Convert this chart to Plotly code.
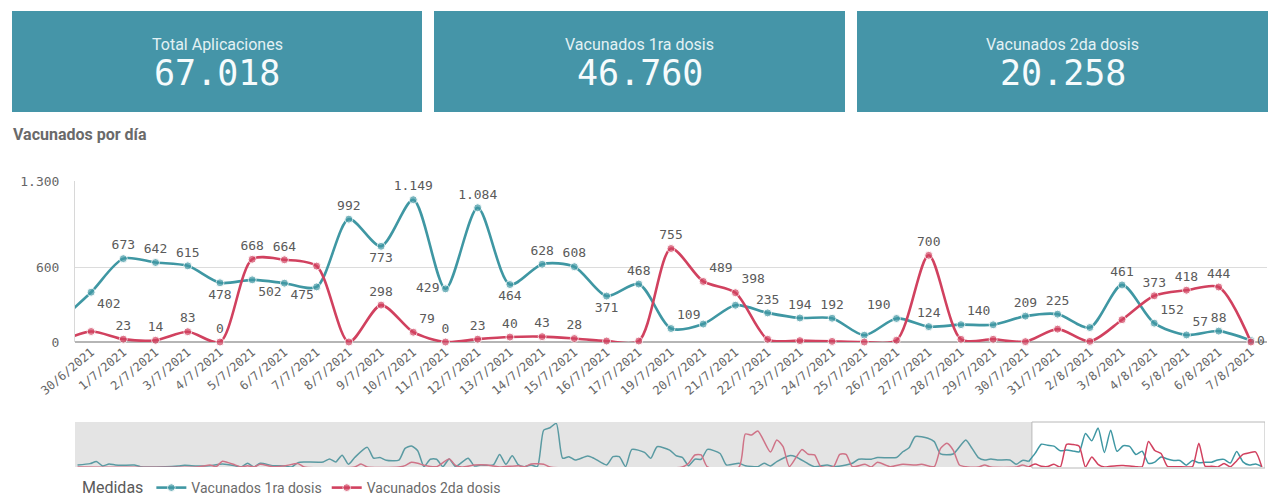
import plotly.graph_objects as go

# ---------------- data ----------------
kpi_titles = ["Total Aplicaciones", "Vacunados 1ra dosis", "Vacunados 2da dosis"]
kpi_values = [67018, 46760, 20258]

dates = ["29/6/2021", "30/6/2021", "1/7/2021", "2/7/2021", "3/7/2021", "4/7/2021",
         "5/7/2021", "6/7/2021", "7/7/2021", "8/7/2021", "9/7/2021", "10/7/2021",
         "11/7/2021", "12/7/2021", "13/7/2021", "14/7/2021", "15/7/2021", "16/7/2021",
         "17/7/2021", "19/7/2021", "20/7/2021", "21/7/2021", "22/7/2021", "23/7/2021",
         "24/7/2021", "25/7/2021", "26/7/2021", "27/7/2021", "28/7/2021", "29/7/2021",
         "30/7/2021", "31/7/2021", "2/8/2021", "3/8/2021", "4/8/2021", "5/8/2021",
         "6/8/2021", "7/8/2021"]
dosis1 = [165, 402, 673, 642, 615, 478, 502, 475, 445, 992, 773, 1149, 429, 1084, 464, 628,
          608, 371, 468, 109, 145, 297, 235, 194, 192, 55, 190, 124, 140, 139, 209, 225,
          117, 461, 152, 57, 88, 12]
dosis2 = [0, 85, 23, 14, 83, 0, 668, 664, 613, 0, 298, 79, 0, 23, 40, 43, 28, 8, 8, 755,
          489, 398, 22, 11, 5, 0, 14, 700, 22, 22, 3, 104, 5, 180, 373, 418, 444, 0]

# earlier history shown in the navigator (day offset relative to 29/6/2021)
hist_day_1 = [-151, -149, -148, -147, -146, -145, -144, -142, -141, -137, -135, -134, -132,
              -130, -128, -126, -125, -124, -123, -122, -120, -118, -117, -116, -115, -112,
              -111, -110, -109, -108, -107, -105, -104, -103, -102, -100, -99, -98, -97,
              -96, -95, -94, -93, -92, -91, -89, -88, -87, -85, -84, -83, -82, -81, -80,
              -79, -78, -77, -76, -75, -74, -73, -72, -70, -69, -67, -66, -65, -64, -63,
              -61, -60, -59, -57, -56, -55, -54, -53, -52, -51, -49, -48, -46, -45, -43,
              -42, -41, -40, -38, -37, -35, -34, -32, -31, -29, -28, -27, -25, -24, -21,
              -20, -19, -18, -16, -15, -14, -12, -10, -9, -8, -7, -6, -5, -3, -2, -1]
hist_val_1 = [60, 100, 160, 30, 90, 60, 50, 60, 10, 10, 30, 50, 30,
              40, 90, 40, 0, 110, 0, 110, 40, 30, 0, 130, 150, 150,
              240, 150, 350, 80, 280, 580, 260, 280, 200, 200, 550, 620, 480,
              10, 230, 230, 10, 240, 10, 260, 30, 60, 60, 370, 80, 330, 60, 10,
              60, 10, 1090, 1160, 1290, 260, 305, 205, 325, 255, 60, 305, 305, 10, 520,
              430, 255, 600, 500, 335, 285, 40, 230, 230, 520, 400, 60, 110, 40, 10,
              110, 30, 160, 335, 305, 90, 10, 60, 10, 60, 110, 230, 230, 280, 280,
              450, 570, 900, 850, 750, 385, 385, 800, 550, 275, 205, 235, 205, 205, 80, 195]
hist_day_2 = [-151, -132, -131, -130, -129, -128, -126, -125, -124, -123, -122, -120, -118,
              -116, -115, -107, -106, -105, -100, -99, -98, -97, -96, -94, -92, -91, -90,
              -88, -86, -85, -84, -81, -80, -79, -77, -76, -55, -54, -53, -52, -51, -46,
              -45, -44, -43, -41, -40, -39, -38, -36, -35, -34, -33, -31, -30, -29, -28,
              -26, -25, -24, -22, -20, -18, -17, -15, -14, -13, -12, -11, -10, -8, -7,
              -6, -2, -1]
hist_val_2 = [0, 0, 30, 60, 10, 170, 60, 0, 40, 0, 80, 10, 40,
              100, 0, 0, 90, 0, 0, 40, 140, 110, 50, 10, 240, 50, 0,
              60, 60, 30, 0, 40, 10, 90, 80, 0, 0, 110, 355, 355, 0, 0,
              975, 945, 1065, 440, 800, 600, 10, 520, 375, 355, 10, 10, 375, 375, 10,
              80, 0, 140, 10, 80, 60, 80, 10, 550, 700, 500, 60, 10, 0, 60,
              0, 0, 60]

series_names = ["Vacunados 1ra dosis", "Vacunados 2da dosis"]

# ---------------- styles ----------------
BLUE = "#3f97a3"
RED = "#d1415f"
BLUE_MUTED = "#5a9aa2"
RED_MUTED = "#cf7387"
BOX = "#4595a8"
MONO = "DejaVu Sans Mono"
SANS = "Roboto"
LABEL_GREY = "#5a5a5a"

W, H = 1280, 504


def px_x(v):
    return v / W


def px_y(v):
    return 1 - v / H


def fmt(v):
    return f"{v:,}".replace(",", ".")


# label placement (style only)
pos1 = {"30/6/2021": "bottom right", "4/7/2021": "bottom center", "5/7/2021": "bottom right",
        "6/7/2021": "bottom right", "9/7/2021": "bottom center", "11/7/2021": "middle left",
        "13/7/2021": "bottom center", "16/7/2021": "bottom center", "19/7/2021": "top right",
        "26/7/2021": "top left", "28/7/2021": "top right", "4/8/2021": "top right",
        "5/8/2021": "top right"}
hide1 = {"29/6/2021", "7/7/2021", "20/7/2021", "21/7/2021", "25/7/2021", "29/7/2021",
         "2/8/2021", "7/8/2021"}
pos2 = {"10/7/2021": "top right", "20/7/2021": "top right", "21/7/2021": "top right",
        "7/8/2021": "middle right"}
hide2 = {"29/6/2021", "30/6/2021", "7/7/2021", "8/7/2021", "16/7/2021", "17/7/2021",
         "22/7/2021", "23/7/2021", "24/7/2021", "25/7/2021", "26/7/2021", "28/7/2021",
         "29/7/2021", "30/7/2021", "31/7/2021", "2/8/2021", "3/8/2021"}
out_of_view = {"29/6/2021"}

fig = go.Figure()

for vals, name, col, pos, hide in [(dosis1, series_names[0], BLUE, pos1, hide1),
                                   (dosis2, series_names[1], RED, pos2, hide2)]:
    fig.add_trace(go.Scatter(
        x=dates, y=vals, name=name, mode="lines+markers+text",
        line=dict(color=col, width=2.6, shape="spline", smoothing=0.8),
        marker=dict(color=col, size=[0 if d in out_of_view else 8 for d in dates]),
        text=["" if d in hide else fmt(v) for d, v in zip(dates, vals)],
        textposition=[pos.get(d, "top center") for d in dates],
        textfont=dict(family=MONO, size=13, color=LABEL_GREY),
        cliponaxis=False,
        hoverinfo="x+y", xaxis="x", yaxis="y",
    ))

# navigator traces
idx = list(range(len(dates)))
for hd, hv, vals, col, mcol in [(hist_day_1, hist_val_1, dosis1, BLUE, BLUE_MUTED),
                                (hist_day_2, hist_val_2, dosis2, RED, RED_MUTED)]:
    fig.add_trace(go.Scatter(x=hd + [idx[0]], y=hv + [vals[0]], mode="lines",
                             line=dict(color=mcol, width=1.5, shape="spline", smoothing=0.6),
                             showlegend=False, hoverinfo="skip", xaxis="x2", yaxis="y2"))
    fig.add_trace(go.Scatter(x=idx, y=vals, mode="lines",
                             line=dict(color=col, width=1.5, shape="spline", smoothing=0.6),
                             showlegend=False, hoverinfo="skip", xaxis="x2", yaxis="y2"))

shapes = []
annotations = []
# KPI boxes
boxes = [(12, 422), (434, 845), (857, 1268)]
for (x0, x1), t, v in zip(boxes, kpi_titles, kpi_values):
    shapes.append(dict(type="rect", xref="paper", yref="paper", x0=px_x(x0), x1=px_x(x1),
                       y0=px_y(112), y1=px_y(11), fillcolor=BOX, line=dict(width=0),
                       layer="below"))
    cx = px_x((x0 + x1) / 2)
    annotations.append(dict(xref="paper", yref="paper", x=cx, y=px_y(44), text=t,
                            showarrow=False, font=dict(family=SANS, size=16, color="#e3f1f4"),
                            xanchor="center", yanchor="middle"))
    annotations.append(dict(xref="paper", yref="paper", x=cx, y=px_y(73), text=fmt(v),
                            showarrow=False, font=dict(family=MONO, size=35, color="#f6fbfc"),
                            xanchor="center", yanchor="middle"))

annotations.append(dict(xref="paper", yref="paper", x=px_x(11), y=px_y(135),
                        text="<b>Vacunados por día</b>", showarrow=False,
                        font=dict(family=SANS, size=16, color="#6a6a6a"),
                        xanchor="left", yanchor="middle"))

nav_left = -151.4
nav_right = len(dates) - 0.5
# navigator background (out-of-view part) and window frame
shapes.append(dict(type="rect", xref="x2", yref="paper", x0=nav_left, x1=0.5,
                   y0=px_y(467), y1=px_y(422), fillcolor="#e4e4e4", line=dict(width=0),
                   layer="below"))
shapes.append(dict(type="rect", xref="x2", yref="paper", x0=0.5, x1=nav_right,
                   y0=px_y(468), y1=px_y(422), fillcolor="rgba(0,0,0,0)",
                   line=dict(color="#b8b8b8", width=1), layer="below"))

fig.update_layout(
    width=W, height=H, autosize=False,
    margin=dict(l=0, r=0, t=0, b=0, autoexpand=False),
    paper_bgcolor="white", plot_bgcolor="white",
    separators=",.",
    font=dict(family=SANS, color="#666666"),
    shapes=shapes, annotations=annotations,
    showlegend=True,
    legend=dict(orientation="h", x=px_x(80), y=px_y(488), xanchor="left", yanchor="middle",
                title=dict(text="Medidas", font=dict(family=SANS, size=16, color="#5a5a5a")),
                font=dict(family=SANS, size=14, color="#6a6a6a"),
                itemwidth=30, tracegroupgap=0, bgcolor="rgba(0,0,0,0)"),
    xaxis=dict(domain=[px_x(75), px_x(1267)], type="category", range=[0.5, len(dates) - 0.5],
               showgrid=False, showline=False, zeroline=False, ticks="",
               tickangle=-40, tickfont=dict(family=MONO, size=12, color="#666666"),
               anchor="y", fixedrange=True, automargin=False),
    yaxis=dict(domain=[px_y(342), px_y(181)], range=[0, 1300],
               tickvals=[0, 600, 1300], ticktext=[fmt(0), fmt(600), fmt(1300)],
               showgrid=True, gridcolor="#dcdcdc", gridwidth=1,
               zeroline=True, zerolinecolor="#b5b5b5", zerolinewidth=2,
               showline=True, linecolor="#d8d8d8", linewidth=1,
               ticks="", ticklabelstandoff=12,
               tickfont=dict(family=MONO, size=13, color="#666666"),
               anchor="x", fixedrange=True, automargin=False),
    xaxis2=dict(domain=[px_x(75), px_x(1265)], range=[nav_left, nav_right],
                showgrid=False, showline=False, zeroline=False, showticklabels=False,
                ticks="", anchor="y2", fixedrange=True, automargin=False),
    yaxis2=dict(domain=[px_y(467), px_y(423)], range=[0, 1300],
                showgrid=False, showline=False, zeroline=False, showticklabels=False,
                ticks="", anchor="x2", fixedrange=True, automargin=False),
)

fig.write_html("out.html", config={"displayModeBar": False},
               post_script="document.body.style.margin='0';document.body.style.overflow='hidden';")
